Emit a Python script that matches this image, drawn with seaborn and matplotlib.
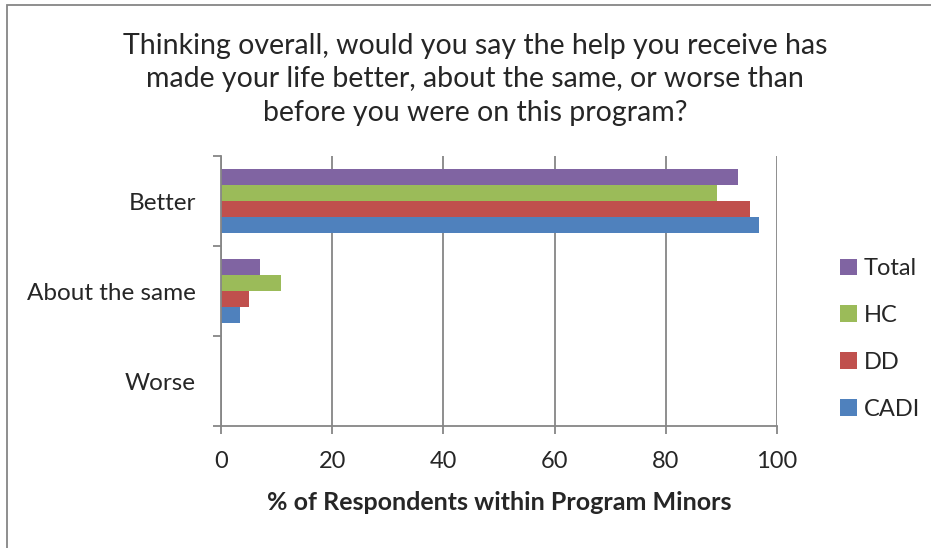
import matplotlib
matplotlib.use("Agg")
import matplotlib.pyplot as plt
import seaborn as sns
import pandas as pd
from matplotlib.patches import Rectangle, Patch

categories = ["Better", "About the same", "Worse"]
series = ["Total", "HC", "DD", "CADI"]
total = [93.0, 7.0, 0.0]
hc = [89.2, 10.8, 0.0]
dd = [95.1, 5.1, 0.0]
cadi = [96.7, 3.4, 0.0]
colors = ["#8064A2", "#9BBB59", "#C0504D", "#4F81BD"]
xticks = [0, 20, 40, 60, 80, 100]

values = {"Total": total, "HC": hc, "DD": dd, "CADI": cadi}
rows = []
for s in series:
    for c, v in zip(categories, values[s]):
        rows.append({"Category": c, "Series": s, "Value": v})
df = pd.DataFrame(rows)

sns.set_theme(style="white")
plt.rcParams["font.family"] = ["Lato", "DejaVu Sans"]

fig = plt.figure(figsize=(9.31, 5.48), dpi=100)
ax = fig.add_axes([221/931, 1-426/548, (777-221)/931, (426-156)/548])

sns.barplot(data=df, x="Value", y="Category", hue="Series", order=categories,
            hue_order=series, palette=colors, orient="h", width=0.72,
            saturation=1, ax=ax, legend=False, edgecolor="none")

ax.set_xlim(0, 100)
ax.set_ylim(2.5, -0.5)
ax.set_xticks(xticks)
ax.set_xticklabels([str(t) for t in xticks], fontsize=17)
ax.xaxis.grid(True, color="#868686", linewidth=1.3)
ax.set_axisbelow(True)
ax.set_ylabel("")
ax.set_xlabel("% of Respondents within Program Minors", fontsize=18, fontweight="bold", labelpad=14)

ax.set_yticks(range(len(categories)))
ax.set_yticklabels(categories, fontsize=17.5)
ax.set_yticks([-0.5, 0.5, 1.5, 2.5], minor=True)
ax.tick_params(axis="y", which="major", length=0, pad=18)
ax.tick_params(axis="y", which="minor", length=6, color="#868686", width=1.3, direction="out", left=True)
ax.tick_params(axis="x", which="major", length=6, color="#868686", width=1.3, direction="out", bottom=True, pad=12)

for side in ["top", "right"]:
    ax.spines[side].set_visible(False)
for side in ["left", "bottom"]:
    ax.spines[side].set_color("#868686")
    ax.spines[side].set_linewidth(1.3)

fig.suptitle("Thinking overall, would you say the help you receive has\nmade your life better, about the same, or worse than\nbefore you were on this program?",
             fontsize=20.5, y=1-33/548, x=475/931, linespacing=1.35, va="top")

handles = [Patch(facecolor=c, edgecolor="none") for c in colors]
fig.legend(handles, series, loc="center left", bbox_to_anchor=(819/931, 1-339/548),
           frameon=False, fontsize=17, handlelength=0.7, handleheight=0.7,
           handletextpad=0.3, labelspacing=1.1)

fig.add_artist(Rectangle((7/931, -0.1), 1.2, 1-5/548+0.1, transform=fig.transFigure,
                         fill=False, edgecolor="#868686", linewidth=1.3, clip_on=False))

fig.savefig("out.png", dpi=100)
